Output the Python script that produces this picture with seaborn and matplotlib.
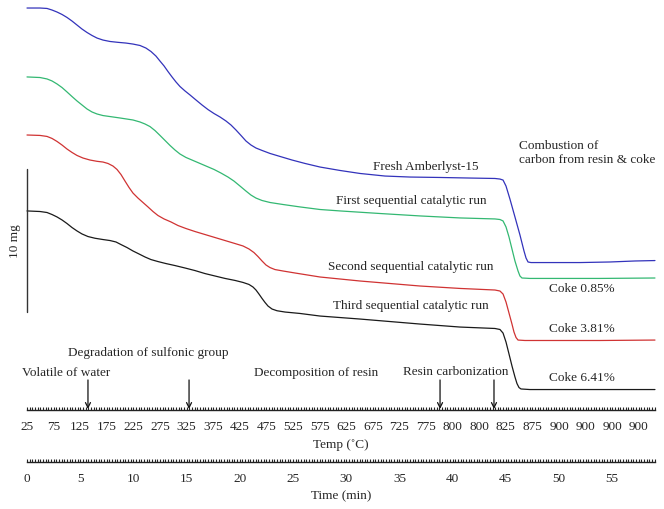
import numpy as np
import pandas as pd
import matplotlib
matplotlib.use("Agg")
import matplotlib.pyplot as plt
import seaborn as sns
from matplotlib.ticker import FixedLocator, FixedFormatter, NullFormatter

# ---------------- data (time in min, weight signal in mg, offset per run) ----------------
fresh_t = [0.00, 1.22, 1.88, 2.35, 2.82, 3.29, 3.76, 4.23, 4.70, 5.17, 5.64, 6.11, 6.58, 7.14, 7.80,
           8.55, 9.30, 9.96, 10.62, 11.18, 11.65, 12.12, 12.50, 12.88, 13.25, 13.63, 14.00, 14.38,
           14.85, 15.32, 15.88, 16.45, 17.01, 17.58, 18.14, 18.70, 19.17, 19.64, 20.11, 20.58,
           21.05, 21.52, 22.09, 22.84, 23.78, 24.91, 26.13, 27.54, 29.42, 31.30, 33.65, 36.00,
           38.82, 41.64, 43.98, 44.45, 44.74, 45.02, 45.39, 45.86, 46.33, 46.71, 46.90, 47.09,
           47.37, 48.21, 51.97, 54.79, 57.14, 59.02]
fresh_w = [28.74, 28.74, 28.71, 28.60, 28.46, 28.29, 28.08, 27.83, 27.55, 27.27, 27.03, 26.82, 26.64,
           26.50, 26.40, 26.34, 26.29, 26.22, 26.12, 25.94, 25.70, 25.38, 25.03, 24.69, 24.30,
           23.92, 23.57, 23.25, 22.94, 22.66, 22.31, 21.96, 21.64, 21.36, 21.12, 20.84, 20.56,
           20.21, 19.83, 19.44, 19.16, 18.95, 18.78, 18.57, 18.36, 18.11, 17.87, 17.62, 17.38,
           17.17, 16.99, 16.92, 16.89, 16.85, 16.82, 16.78, 16.71, 16.29, 15.38, 14.13, 12.87,
           11.75, 11.26, 10.98, 10.94, 10.94, 10.94, 10.98, 11.05, 11.08]

first_t = [0.00, 1.22, 1.88, 2.35, 2.82, 3.29, 3.76, 4.23, 4.70, 5.17, 5.64, 6.11, 6.58, 7.14, 7.80,
           8.74, 9.96, 10.62, 11.09, 11.56, 12.03, 12.50, 12.97, 13.44, 13.91, 14.38, 14.94, 15.60,
           16.26, 16.92, 17.58, 18.23, 18.89, 19.45, 20.02, 20.58, 21.05, 21.52, 22.09, 22.84,
           24.06, 25.66, 27.54, 29.42, 33.18, 36.94, 40.70, 43.98, 44.45, 44.74, 45.02, 45.30,
           45.58, 45.86, 46.15, 46.33, 46.52, 47.27, 53.85, 59.02]
first_w = [23.92, 23.88, 23.78, 23.64, 23.43, 23.18, 22.87, 22.55, 22.24, 21.96, 21.68, 21.47, 21.33,
           21.22, 21.15, 21.05, 20.91, 20.77, 20.63, 20.45, 20.17, 19.83, 19.48, 19.13, 18.81,
           18.53, 18.29, 18.08, 17.87, 17.66, 17.45, 17.20, 16.92, 16.64, 16.29, 15.94, 15.66,
           15.45, 15.28, 15.14, 15.00, 14.83, 14.65, 14.55, 14.37, 14.20, 14.06, 13.99, 13.95,
           13.85, 13.43, 12.73, 11.89, 11.05, 10.35, 10.00, 9.86, 9.83, 9.83, 9.86]

second_t = [0.00, 1.22, 1.88, 2.35, 2.82, 3.29, 3.76, 4.23, 4.70, 5.26, 5.92, 6.58, 7.14, 7.61, 8.08,
            8.46, 8.83, 9.21, 9.59, 9.96, 10.43, 10.90, 11.37, 11.84, 12.31, 12.88, 13.53, 14.19,
            14.94, 15.79, 16.73, 17.67, 18.61, 19.55, 20.30, 20.86, 21.33, 21.71, 22.09, 22.46,
            22.84, 23.31, 24.06, 25.19, 27.54, 31.30, 36.94, 40.70, 43.98, 44.45, 44.74, 45.02,
            45.30, 45.58, 45.77, 45.96, 46.15, 46.80, 53.85, 59.02]
second_w = [19.86, 19.83, 19.76, 19.62, 19.41, 19.16, 18.88, 18.64, 18.43, 18.25, 18.11, 18.02, 17.97,
            17.87, 17.69, 17.45, 17.10, 16.64, 16.19, 15.80, 15.45, 15.14, 14.83, 14.51, 14.23,
            13.99, 13.78, 13.53, 13.32, 13.11, 12.90, 12.69, 12.48, 12.27, 12.10, 11.89, 11.64,
            11.36, 11.05, 10.77, 10.59, 10.45, 10.35, 10.21, 9.93, 9.65, 9.30, 9.13, 9.02, 8.95,
            8.74, 8.18, 7.41, 6.64, 6.08, 5.70, 5.52, 5.49, 5.49, 5.52]

third_t = [0.00, 1.22, 1.88, 2.35, 2.82, 3.29, 3.76, 4.23, 4.70, 5.17, 5.73, 6.39, 7.14, 7.80, 8.36,
           8.83, 9.40, 9.96, 10.53, 11.09, 11.65, 12.31, 13.06, 13.91, 14.85, 15.79, 16.73, 17.67,
           18.61, 19.55, 20.30, 20.86, 21.24, 21.52, 21.80, 22.09, 22.37, 22.65, 23.03, 23.50,
           24.25, 25.66, 27.54, 31.30, 36.94, 40.70, 43.98, 44.45, 44.74, 45.02, 45.30, 45.58,
           45.86, 46.05, 46.24, 46.43, 47.27, 53.85, 59.02]
third_w = [14.55, 14.51, 14.44, 14.30, 14.13, 13.92, 13.67, 13.39, 13.15, 12.94, 12.76, 12.64, 12.55,
           12.48, 12.38, 12.20, 11.99, 11.75, 11.54, 11.33, 11.15, 11.01, 10.87, 10.73, 10.56,
           10.38, 10.17, 10.00, 9.83, 9.69, 9.55, 9.41, 9.23, 9.02, 8.74, 8.43, 8.15, 7.90, 7.69,
           7.57, 7.48, 7.38, 7.20, 6.99, 6.64, 6.43, 6.33, 6.26, 6.01, 5.38, 4.55, 3.71, 2.94,
           2.48, 2.20, 2.10, 2.06, 2.06, 2.06]

runs = ["Fresh Amberlyst-15", "First sequential catalytic run",
        "Second sequential catalytic run", "Third sequential catalytic run"]
coke_labels = ["Coke 0.85%", "Coke 3.81%", "Coke 6.41%"]

temp_tick_labels = ["25", "75", "125", "175", "225", "275", "325", "375", "425", "475", "525",
                    "575", "625", "675", "725", "775", "800", "800", "825", "875", "900", "900",
                    "900", "900"]
time_tick_labels = ["0", "5", "10", "15", "20", "25", "30", "35", "40", "45", "50", "55"]

stage_labels = ["Volatile of water", "Degradation of sulfonic group",
                "Decomposition of resin", "Resin carbonization"]
arrow_times = [5.73, 15.23, 38.82, 43.89]
scale_bar_mg = 10

# ---------------- build table ----------------
frames = []
for name, t, w in zip(runs, [fresh_t, first_t, second_t, third_t],
                      [fresh_w, first_w, second_w, third_w]):
    frames.append(pd.DataFrame({"time": t, "weight": w, "run": name}))
df = pd.concat(frames, ignore_index=True)

# ---------------- style ----------------
sns.set_theme(style="white")
plt.rcParams["font.family"] = ["Liberation Serif", "DejaVu Serif"]

W, H = 664, 510
fig = plt.figure(figsize=(W / 100, H / 100), dpi=100)
ax = fig.add_axes([0, 0, 1, 1])

px_per_min = 10.64
px_per_mg = 14.3
x0_px, y0_px = 27, 420
xlim = (-x0_px / px_per_min, (W - x0_px) / px_per_min)
ylim = ((y0_px - H) / px_per_mg, y0_px / px_per_mg)
t_end = (655 - x0_px) / px_per_min

palette = {runs[0]: "#3333bb", runs[1]: "#33b872", runs[2]: "#d03333", runs[3]: "#1a1a1a"}
sns.lineplot(data=df, x="time", y="weight", hue="run", palette=palette, estimator=None,
             sort=False, linewidth=0.9, legend=False, ax=ax)
for ln in ax.lines:
    ln.set_solid_joinstyle("round")
ax.set_xlim(*xlim)
ax.set_ylim(*ylim)
ax.axis("off")

fs = 9.5
# scale bar
sb_bottom = 7.48
ax.plot([0, 0], [sb_bottom, sb_bottom + scale_bar_mg], color="#333333", lw=1.0)
ax.text(-1.13, sb_bottom + scale_bar_mg / 2, f"{scale_bar_mg} mg", rotation=90,
        ha="center", va="center", fontsize=fs)

# curve labels
ax.text(37.5, 17.69, runs[0], ha="center", va="center", fontsize=fs)
ax.text(36.1, 15.31, runs[1], ha="center", va="center", fontsize=fs)
ax.text(36.1, 10.70, runs[2], ha="center", va="center", fontsize=fs)
ax.text(36.1, 7.97, runs[3], ha="center", va="center", fontsize=fs)
ax.text(46.24, 18.67, "Combustion of\ncarbon from resin & coke", ha="left", va="center",
        fontsize=fs, linespacing=1.25)
for lab, yy in zip(coke_labels, [9.16, 6.36, 2.94]):
    ax.text(52.16, yy, lab, ha="center", va="center", fontsize=fs)

# stage annotations
ax.text(3.71, 3.29, stage_labels[0], ha="center", va="center", fontsize=fs)
ax.text(11.37, 4.69, stage_labels[1], ha="center", va="center", fontsize=fs)
ax.text(27.16, 3.29, stage_labels[2], ha="center", va="center", fontsize=fs)
ax.text(40.32, 3.36, stage_labels[3], ha="center", va="center", fontsize=fs)
for t in arrow_times:
    ax.annotate("", xy=(t, 0.70), xytext=(t, 2.73),
                arrowprops=dict(arrowstyle="->", lw=0.9, color="#111111", mutation_scale=9,
                                shrinkA=0, shrinkB=0))

# ---------------- axes: temperature and time ----------------
minor_pos = list(np.arange(0, t_end + 1e-6, 0.25))


def make_axis(y_px, majors, labels, label_text, label_y_px):
    a = fig.add_axes([0, (H - y_px) / H, 1, 0.0001])
    a.set_xlim(*xlim)
    a.set_facecolor("none")
    for s in ["top", "left", "right"]:
        a.spines[s].set_visible(False)
    a.spines["bottom"].set_visible(True)
    a.spines["bottom"].set_color("#222222")
    a.spines["bottom"].set_linewidth(1.0)
    a.spines["bottom"].set_bounds(0, t_end)
    a.set_yticks([])
    a.xaxis.set_major_locator(FixedLocator(majors))
    a.xaxis.set_major_formatter(FixedFormatter(labels))
    a.xaxis.set_minor_locator(FixedLocator(minor_pos))
    a.xaxis.set_minor_formatter(NullFormatter())
    a.tick_params(axis="x", which="both", direction="in", length=2.2, width=0.8,
                  color="#222222", bottom=True, labelsize=fs, pad=7)
    fig.text(341 / W, (H - label_y_px) / H, label_text, ha="center", va="center", fontsize=fs)
    return a


temp_majors = [2.5 * i for i in range(len(temp_tick_labels))]
time_majors = [5 * i for i in range(len(time_tick_labels))]
make_axis(411, temp_majors, temp_tick_labels, "Temp (˚C)", 445)
make_axis(463, time_majors, time_tick_labels, "Time (min)", 496)

fig.savefig("out.png", dpi=100)
